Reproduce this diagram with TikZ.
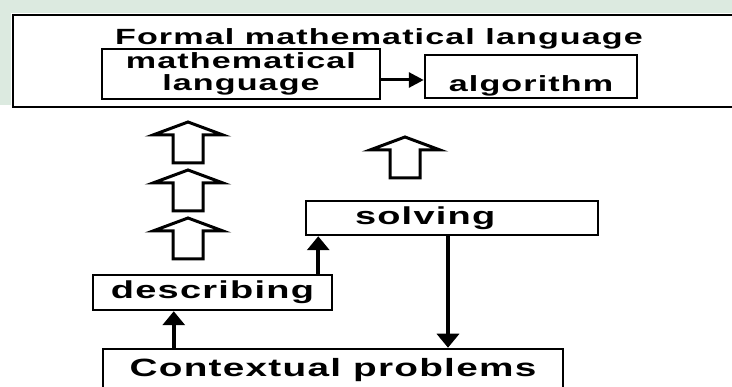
\documentclass[tikz,border=0pt]{standalone}
\usepackage{fontspec}
\newfontfamily\boxfont[FakeStretch=1.55,LetterSpace=5]{Liberation Sans}
\usetikzlibrary{arrows.meta}
\definecolor{bgtexture}{RGB}{220,234,224}

\begin{document}
\begin{tikzpicture}[
    x=1pt, y=-1pt,
    box/.style={rectangle, draw, line width=2.5pt, fill=white, inner sep=0pt, align=center, font=\boxfont\bfseries\fontsize{22}{22}\selectfont},
    bigtext/.style={font=\boxfont\bfseries\fontsize{24.5}{24}\selectfont},
    arrow/.style={-{Triangle[length=14pt,width=22pt]}, line width=4pt},
    hollowup/.pic={
        \draw[line width=3pt, line join=miter, fill=white] (0,0) -- (35,13) -- (15,13) -- (15,41) -- (-15,41) -- (-15,13) -- (-35,13) -- cycle;
    }
]
\useasboundingbox (0,0) rectangle (732,387);
\clip (0,0) rectangle (732,387);

% Background
\fill[bgtexture] (0,0) rectangle (732,13);
\fill[bgtexture] (0,0) rectangle (11,105);

% Formal level
\node[box, minimum width=740pt, minimum height=92pt] (formal) at (383,61) {};
\node[font=\boxfont\bfseries\fontsize{22}{22}\selectfont, anchor=base] (title) at (379,45) {Formal mathematical language};
\node[box, minimum width=278pt, minimum height=50pt] (mathlang) at (241,74) {mathematical\\language};
\node[box, minimum width=212pt, minimum height=43pt, text height=37pt, text depth=6pt] (algo) at (531,76.5) {algorithm};

% Hollow arrows
\pic (up1) at (188,122) {hollowup};
\pic (up2) at (188,170) {hollowup};
\pic (up3) at (188,218) {hollowup};
\pic (up4) at (405,137) {hollowup};

% Lower level
\node[box, bigtext, minimum width=292pt, minimum height=34pt, text width=194pt, inner xsep=49pt, align=left] (solving) at (452,218) {solving};
\node[box, bigtext, minimum width=239pt, minimum height=35pt] (describing) at (212.5,292.5) {describing};
\node[box, minimum width=460pt, minimum height=42pt, font=\boxfont\bfseries\fontsize{25}{24}\selectfont] (context) at (333,370) {Contextual problems};

% Arrows
\draw[-{Triangle[length=15pt,width=15pt]}, line width=3pt] ([yshift=-6pt]mathlang.east) -- ([yshift=-6pt]mathlang.east -| algo.west);
\draw[arrow] ([xshift=72pt]context.north west) -- ([xshift=72pt]context.north west |- describing.south);
\draw[arrow] ([xshift=-15pt]describing.north east) -- ([xshift=-15pt]describing.north east |- solving.south);
\draw[arrow] ([xshift=-4pt]solving.south) -- ([xshift=-4pt]solving.south |- context.north);

\end{tikzpicture}
\end{document}
